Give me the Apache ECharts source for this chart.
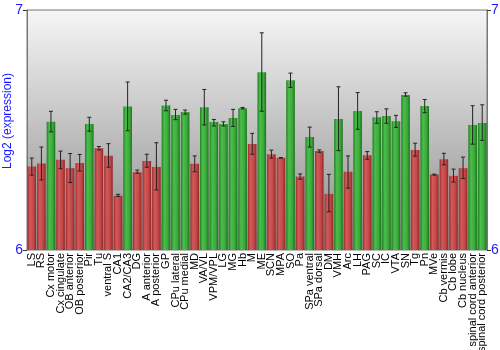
<!DOCTYPE html>
<html><head><meta charset="utf-8">
<script src="https://cdn.jsdelivr.net/npm/echarts@6/dist/echarts.min.js"></script>
<style>html,body{margin:0;padding:0;background:#fff}#c{width:500px;height:350px}</style>
</head><body><div id="c"></div>
<script>
const categories = ["LS","RS","Cx motor","Cx cingulate","OB anterior","OB posterior","Pir","Tu","ventral S","CA1","CA2/CA3","DG","A anterior","A posterior","GP","CPu lateral","CPu medial","MD","VA/VL","VPM/VPL","LG","MG","Hb","M","ME","SCN","MPA","SO","Pa","SPa ventral","SPa dorsal","DM","VMH","Arc","LH","PAG","SC","IC","VTA","SN","Tg","Pn","MVe","Cb vermis","Cb lobe","Cb nucleus","spinal cord anterior","spinal cord posterior"];
const values = [6.348,6.360,6.534,6.376,6.341,6.363,6.525,6.424,6.393,6.226,6.598,6.324,6.371,6.346,6.602,6.563,6.575,6.359,6.595,6.533,6.525,6.550,6.591,6.442,6.741,6.399,6.384,6.707,6.306,6.471,6.413,6.234,6.546,6.326,6.579,6.395,6.553,6.558,6.536,6.646,6.417,6.600,6.315,6.378,6.309,6.341,6.521,6.529];
const errHigh = [6.383,6.429,6.578,6.412,6.402,6.398,6.553,6.431,6.443,6.232,6.700,6.333,6.399,6.447,6.624,6.586,6.583,6.392,6.669,6.544,6.534,6.586,6.594,6.486,6.905,6.416,6.385,6.737,6.317,6.512,6.417,6.315,6.680,6.392,6.656,6.410,6.576,6.588,6.561,6.655,6.445,6.627,6.316,6.403,6.337,6.387,6.601,6.605];
const errLow = [6.312,6.292,6.492,6.339,6.281,6.329,6.495,6.417,6.345,6.223,6.497,6.320,6.345,6.250,6.580,6.543,6.566,6.326,6.521,6.517,6.517,6.515,6.588,6.399,6.578,6.383,6.383,6.677,6.295,6.429,6.407,6.159,6.414,6.258,6.503,6.378,6.528,6.528,6.511,6.641,6.391,6.572,6.312,6.355,6.283,6.298,6.441,6.457];
const yTicks = [6, 7];
const yTitle = 'Log2 (expression)';
const threshold = 6.45;

const redGrad = new echarts.graphic.LinearGradient(0,0,1,0,[
  {offset:0,color:'#9c2e2e'},{offset:0.3,color:'#d25a5a'},{offset:0.7,color:'#c44646'},{offset:1,color:'#8e2828'}]);
const greenGrad = new echarts.graphic.LinearGradient(0,0,1,0,[
  {offset:0,color:'#1f801f'},{offset:0.3,color:'#4cbe4c'},{offset:0.7,color:'#3aaa3a'},{offset:1,color:'#1a741a'}]);

const chart = echarts.init(document.getElementById('c'), null, {renderer:'canvas'});
const blue = '#1a1aff';
const font = 'Liberation Sans, Arial, sans-serif';
const yAxisCommon = {
  type:'value', min:yTicks[0], max:yTicks[1], interval:1,
  splitLine:{show:false},
  axisLine:{show:true, lineStyle:{color:'#777'}},
  axisTick:{show:true, length:4, lineStyle:{color:'#333'}},
  axisLabel:{color:blue, fontSize:14, fontFamily:font, margin:4}
};
chart.setOption({
  animation:false,
  grid:{left:27, right:13, top:10, bottom:100, containLabel:false, outerBoundsMode:'none',
    show:true, borderColor:'#777', borderWidth:1,
    backgroundColor:new echarts.graphic.LinearGradient(0,0,0,1,[{offset:0,color:'#f6f6f6'},{offset:1,color:'#8a8a8a'}])},
  graphic:[{type:'text', x:8, y:121, rotation:Math.PI/2,
    style:{text:yTitle, fill:blue, font:'12px '+font, align:'center', verticalAlign:'middle'}}],
  xAxis:{type:'category', data:categories,
    axisLine:{show:false}, axisTick:{show:false},
    axisLabel:{interval:0, rotate:90, fontSize:11, color:'#000', fontFamily:font, margin:3}},
  yAxis:[
    Object.assign({}, yAxisCommon),
    Object.assign({}, yAxisCommon, {position:'right'})
  ],
  series:[
    {type:'bar', data:values, barCategoryGap:'10%',
      itemStyle:{color:p => p.value >= threshold ? greenGrad : redGrad}},
    {type:'custom', data:categories.map((c,i)=>[i, errLow[i], errHigh[i]]),
      renderItem:(params, api) => {
        const lo = api.coord([api.value(0), api.value(1)]);
        const hi = api.coord([api.value(0), api.value(2)]);
        const w = 2;
        const st = {stroke:'#222', lineWidth:1};
        return {type:'group', children:[
          {type:'line', shape:{x1:lo[0],y1:lo[1],x2:hi[0],y2:hi[1]}, style:st},
          {type:'line', shape:{x1:lo[0]-w,y1:lo[1],x2:lo[0]+w,y2:lo[1]}, style:st},
          {type:'line', shape:{x1:hi[0]-w,y1:hi[1],x2:hi[0]+w,y2:hi[1]}, style:st}
        ]};
      }, z:10}
  ]
});
</script></body></html>
